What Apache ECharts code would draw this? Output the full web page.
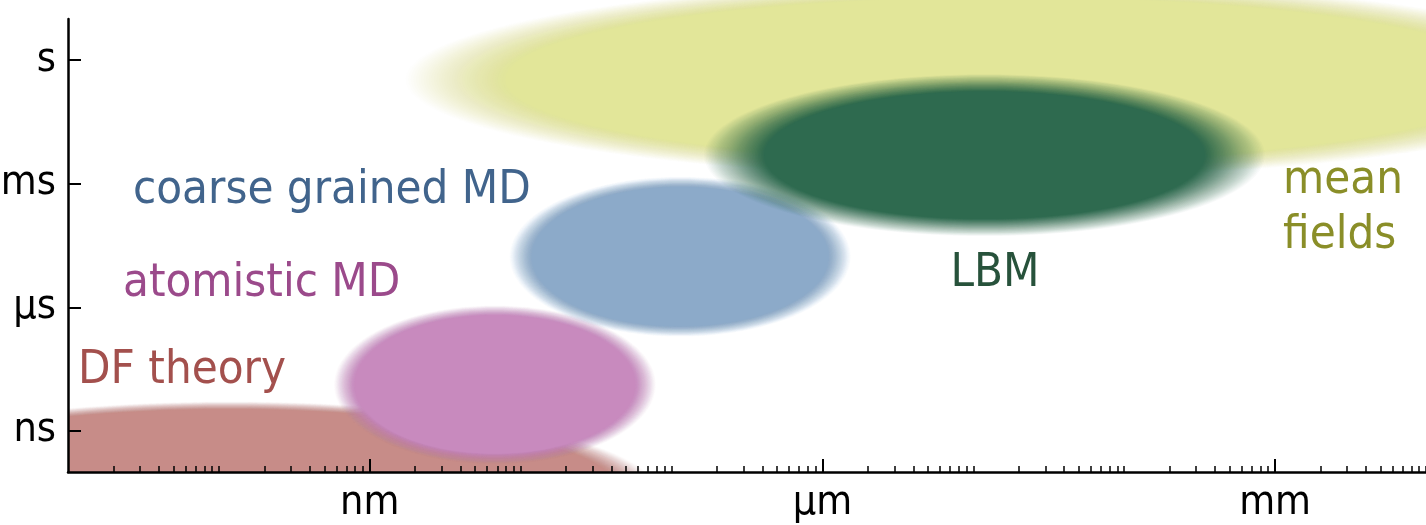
<!DOCTYPE html>
<html>
<head>
<meta charset="utf-8">
<script src="https://cdn.jsdelivr.net/npm/echarts@6/dist/echarts.min.js"></script>
<style>
  html, body { margin: 0; padding: 0; background: #fff; }
  #chart { width: 1426px; height: 525px; }
</style>
</head>
<body>
<div id="chart"></div>
<script>
// methods and the length (m) / time (s) ranges they cover
const methods = ['DF theory', 'atomistic MD', 'coarse grained MD', 'mean fields', 'LBM'];
const lengthMin = [2.2e-13, 6.8e-10, 1.0e-8, 3.7e-9, 2.6e-7];
const lengthMax = [6.2e-8, 6.7e-8, 1.3e-6, 7.9e-2, 5.4e-4];
const timeMin = [1.9e-13, 2.1e-10, 2.6e-7, 2.2e-3, 8.7e-5];
const timeMax = [4.1e-9, 8.3e-7, 1.1e-3, 53, 0.28];

// axis ticks
const lengthTicks = [1e-9, 1e-6, 1e-3];
const lengthTickLabels = ['nm', 'μm', 'mm'];
const timeTicks = [1e-9, 1e-6, 1e-3, 1];
const timeTickLabels = ['ns', 'μs', 'ms', 's'];

// styles
const blobColors = ['#c78c88', '#c88abe', '#8caac9', '#e2e699', '#2e6a4f'];
const blobFade = [0.045, 0.07, 0.07, 0.09, 0.12];
const textColors = ['#a3504d', '#9b4a8b', '#41648c', '#8a8e28', '#27523b'];

// minor ticks 2..10 in every decade, except the labelled ones
const minorTicks = [];
for (let e = -11; e < -2; e++) {
  for (let k = 2; k <= 10; k++) {
    if (k === 10 && lengthTicks.some(t => Math.abs(Math.log10(t) - (e + 1)) < 1e-6)) continue;
    minorTicks.push(k * Math.pow(10, e));
  }
}

const LAYERS = 40;
const FONT = "'DejaVu Sans Condensed', 'DejaVu Sans'";

function pickLabel(ticks, labels, v) {
  const i = ticks.findIndex(t => Math.abs(Math.log10(t) - Math.log10(v)) < 0.01);
  return i < 0 ? '' : labels[i];
}

// soft-edged ellipse spanning the given ranges on the log axes
function renderBlob(params, api) {
  const m = api.value(4);
  const a = api.coord([api.value(0), api.value(2)]);
  const b = api.coord([api.value(1), api.value(3)]);
  const cx = (a[0] + b[0]) / 2;
  const cy = (a[1] + b[1]) / 2;
  const rx = Math.abs(b[0] - a[0]) / 2;
  const ry = Math.abs(b[1] - a[1]) / 2;
  const k = blobFade[m];
  const children = [];
  for (let i = 0; i < LAYERS; i++) {
    const s = 1 + k - 2 * k * i / (LAYERS - 1);
    children.push({
      type: 'ellipse',
      shape: { cx: cx, cy: cy, rx: rx * s, ry: ry * s },
      style: { fill: blobColors[m], opacity: 1 / (LAYERS - i) }
    });
  }
  return { type: 'group', children: children };
}

function blobData(idx) {
  return idx.map(i => ({ name: methods[i], value: [lengthMin[i], lengthMax[i], timeMin[i], timeMax[i], i] }));
}

function label(text, x, y, color, align) {
  return {
    type: 'text', z: 20,
    style: { text: text, x: x, y: y, align: align || 'left', verticalAlign: 'middle', fontFamily: FONT, fontSize: 47, fill: color }
  };
}

const chart = echarts.init(document.getElementById('chart'));
chart.setOption({
  backgroundColor: '#ffffff',
  animation: false,
  grid: [
    { left: 68, right: 0, top: 19, bottom: 53, outerBoundsMode: 'none' },
    { left: 68, right: 0, top: 19, bottom: 53, outerBoundsMode: 'none' }
  ],
  xAxis: [{
    type: 'log',
    gridIndex: 0,
    min: 1e-11,
    max: 1e-2,
    z: 10,
    axisLine: { lineStyle: { color: '#000', width: 2.5 } },
    axisTick: { inside: true, length: 13, customValues: lengthTicks, lineStyle: { color: '#000', width: 2 } },
    axisLabel: {
      customValues: lengthTicks,
      margin: 11,
      color: '#000',
      fontFamily: FONT,
      fontSize: 41,
      formatter: v => pickLabel(lengthTicks, lengthTickLabels, v)
    },
    splitLine: { show: false },
    minorTick: { show: false }
  }, {
    type: 'log',
    gridIndex: 1,
    min: 1e-11,
    max: 1e-2,
    z: 10,
    axisLine: { show: false },
    axisTick: { inside: true, length: 6, customValues: minorTicks, lineStyle: { color: '#000', width: 1.5 } },
    axisLabel: { show: false },
    splitLine: { show: false }
  }],
  yAxis: [{
    type: 'log',
    gridIndex: 0,
    min: 1e-10,
    max: 10,
    z: 10,
    axisLine: { show: true, lineStyle: { color: '#000', width: 2.5 } },
    axisTick: { show: true, inside: true, length: 13, customValues: timeTicks, lineStyle: { color: '#000', width: 2 } },
    axisLabel: {
      customValues: timeTicks,
      margin: 12,
      color: '#000',
      fontFamily: FONT,
      fontSize: 41,
      formatter: v => pickLabel(timeTicks, timeTickLabels, v)
    },
    splitLine: { show: false }
  }, {
    type: 'log',
    gridIndex: 1,
    min: 1e-10,
    max: 10,
    show: false
  }],
  series: [{
    type: 'custom',
    name: 'clipped',
    xAxisIndex: 0,
    yAxisIndex: 0,
    clip: true,
    renderItem: renderBlob,
    encode: { x: [0, 1], y: [2, 3] },
    data: blobData([0])
  }, {
    type: 'custom',
    name: 'free',
    xAxisIndex: 0,
    yAxisIndex: 0,
    clip: false,
    renderItem: renderBlob,
    encode: { x: [0, 1], y: [2, 3] },
    data: blobData([1, 2, 3, 4])
  }],
  graphic: [
    label(methods[2], 133, 191, textColors[2]),
    label(methods[1], 123, 284, textColors[1]),
    label(methods[0], 78, 371, textColors[0]),
    label(methods[4], 995, 274, textColors[4], 'center'),
    label('mean', 1283, 181, textColors[3]),
    label('fields', 1283, 236, textColors[3])
  ]
});
</script>
</body>
</html>
